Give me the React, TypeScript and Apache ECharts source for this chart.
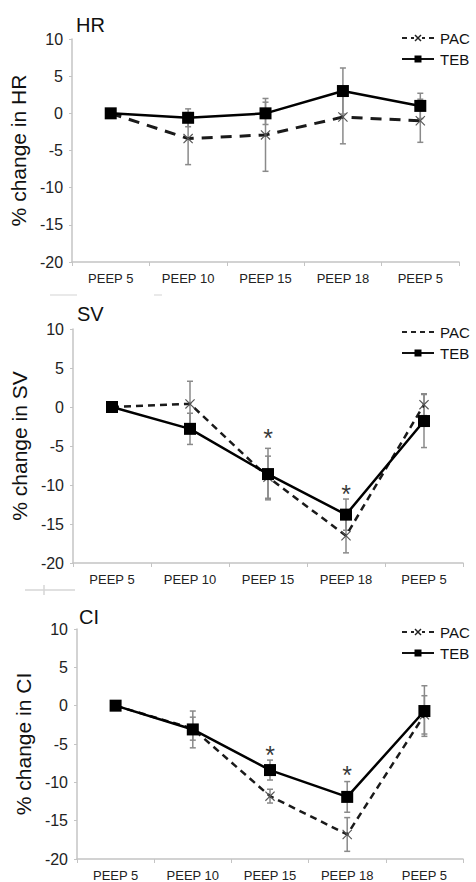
import React, { useEffect, useRef } from "react";
import * as echarts from "echarts";

const FONT = '"Liberation Sans", Arial, Helvetica, sans-serif';

const categories = ["PEEP 5", "PEEP 10", "PEEP 15", "PEEP 18", "PEEP 5"];
const yTicks = { min: -20, max: 10, interval: 5 };

// HR
const hrPAC = [0, -3.4, -2.9, -0.5, -1.0];
const hrPACerr = [0, 3.5, 4.9, 3.6, 2.9];
const hrTEB = [0, -0.6, 0, 3.0, 1.0];
const hrTEBerr = [0, 1.2, 1.5, 3.1, 1.7];

// SV
const svPAC = [0, 0.4, -9.0, -16.5, 0.3];
const svPACerr = [0, 2.9, 2.7, 2.2, 1.4];
const svTEB = [0, -2.8, -8.6, -13.8, -1.8];
const svTEBerr = [0, 2.0, 3.3, 2.0, 3.4];
const svStars = [
  [2, -3.6],
  [3, -10.8],
];

// CI
const ciPAC = [0, -3.0, -11.8, -16.8, -1.2];
const ciPACerr = [0, 1.5, 0.9, 2.2, 2.5];
const ciTEB = [0, -3.1, -8.4, -11.9, -0.7];
const ciTEBerr = [0, 2.4, 1.3, 2.0, 3.3];
const ciStars = [
  [2, -6.0],
  [3, -8.7],
];

const panels = [
  { title: "HR", yName: "% change in HR", pac: hrPAC, pacErr: hrPACerr, teb: hrTEB, tebErr: hrTEBerr, stars: [] as number[][] },
  { title: "SV", yName: "% change in SV", pac: svPAC, pacErr: svPACerr, teb: svTEB, tebErr: svTEBerr, stars: svStars },
  { title: "CI", yName: "% change in CI", pac: ciPAC, pacErr: ciPACerr, teb: ciTEB, tebErr: ciTEBerr, stars: ciStars },
];

const layout = [
  { left: 72, top: 39, width: 387, height: 223, titleX: 76, titleY: 15, legY: 38, dash: [11, 8], legMarker: true },
  { left: 73, top: 329, width: 390, height: 234, titleX: 77, titleY: 304, legY: 332, dash: [7, 5], legMarker: false },
  { left: 77, top: 629, width: 386, height: 230, titleX: 79, titleY: 607, legY: 632, dash: [7, 5], legMarker: true },
];

const X_SYMBOL =
  "path://M0,0.8 L0.8,0 L5,4.2 L9.2,0 L10,0.8 L5.8,5 L10,9.2 L9.2,10 L5,5.8 L0.8,10 L0,9.2 L4.2,5 Z";

const errRender = (params: any, api: any) => {
  const x = api.value(0);
  const lo = api.value(1);
  const hi = api.value(2);
  const top = api.coord([x, hi]);
  const bot = api.coord([x, lo]);
  const w = 3;
  const style = { stroke: "#8a8a8a", lineWidth: 1.5 };
  return {
    type: "group",
    children: [
      { type: "line", shape: { x1: top[0], y1: top[1], x2: bot[0], y2: bot[1] }, style },
      { type: "line", shape: { x1: top[0] - w, y1: top[1], x2: top[0] + w, y2: top[1] }, style },
      { type: "line", shape: { x1: bot[0] - w, y1: bot[1], x2: bot[0] + w, y2: bot[1] }, style },
    ],
  };
};

const errData = (vals: number[], errs: number[]) =>
  vals
    .map((v, i) => [i, v - errs[i], v + errs[i], errs[i]])
    .filter((d) => d[3] > 0)
    .map((d) => [d[0], d[1], d[2]]);

function legendGraphic(y: number, marker: boolean) {
  const x1 = 402;
  const x2 = 434;
  const cx = 418;
  const els: any[] = [
    { type: "line", shape: { x1, y1: y, x2, y2: y }, style: { stroke: "#222", lineWidth: 2, lineDash: [5, 4] } },
    { type: "line", shape: { x1, y1: y + 21, x2, y2: y + 21 }, style: { stroke: "#111", lineWidth: 2 } },
    { type: "rect", shape: { x: cx - 3.5, y: y + 21 - 3.5, width: 7, height: 7 }, style: { fill: "#000" } },
    { type: "text", x: 440, y, style: { text: "PAC", font: `15px ${FONT}`, fill: "#111", verticalAlign: "middle" } },
    { type: "text", x: 440, y: y + 21, style: { text: "TEB", font: `15px ${FONT}`, fill: "#111", verticalAlign: "middle" } },
  ];
  if (marker) {
    els.push(
      { type: "rect", shape: { x: cx - 4, y: y - 2, width: 8, height: 4 }, style: { fill: "#fff" } },
      { type: "line", shape: { x1: cx - 3, y1: y - 3, x2: cx + 3, y2: y + 3 }, style: { stroke: "#222", lineWidth: 1.5 } },
      { type: "line", shape: { x1: cx - 3, y1: y + 3, x2: cx + 3, y2: y - 3 }, style: { stroke: "#222", lineWidth: 1.5 } }
    );
  }
  return els;
}

export default function App() {
  const ref = useRef<HTMLDivElement>(null);
  useEffect(() => {
    if (!ref.current) return;
    const chart = echarts.init(ref.current, undefined, { renderer: "svg" });

    const grid = layout.map((l) => ({ left: l.left, top: l.top, width: l.width, height: l.height, containLabel: false }));
    const xAxis = layout.map((_, i) => ({
      type: "category",
      gridIndex: i,
      data: categories,
      boundaryGap: true,
      axisLine: { show: true, onZero: false, lineStyle: { color: "#c4c4c4", width: 1.5 } },
      axisTick: { show: true, length: 4, lineStyle: { color: "#c4c4c4" } },
      axisLabel: { fontSize: 13, color: "#222", fontFamily: FONT, margin: 10, interval: 0 },
      splitLine: { show: false },
    }));
    const yAxis = panels.map((p, i) => ({
      type: "value",
      gridIndex: i,
      min: yTicks.min,
      max: yTicks.max,
      interval: yTicks.interval,
      name: p.yName,
      nameLocation: "middle",
      nameGap: 37,
      nameTextStyle: { fontSize: 21, color: "#111", fontFamily: FONT },
      axisLine: { show: true, onZero: false, lineStyle: { color: "#c4c4c4", width: 1.5 } },
      axisTick: { show: true, length: 3, lineStyle: { color: "#c4c4c4" } },
      axisLabel: { fontSize: 16, color: "#222", fontFamily: FONT, margin: 9 },
      splitLine: { show: false },
    }));

    const series: any[] = [];
    panels.forEach((p, i) => {
      series.push(
        {
          type: "custom",
          name: "PAC err",
          xAxisIndex: i,
          yAxisIndex: i,
          renderItem: errRender,
          encode: { x: 0, y: [1, 2] },
          data: errData(p.pac, p.pacErr),
          z: 1,
        },
        {
          type: "custom",
          name: "TEB err",
          xAxisIndex: i,
          yAxisIndex: i,
          renderItem: errRender,
          encode: { x: 0, y: [1, 2] },
          data: errData(p.teb, p.tebErr),
          z: 1,
        },
        {
          type: "line",
          name: "PAC",
          xAxisIndex: i,
          yAxisIndex: i,
          data: p.pac,
          symbol: X_SYMBOL,
          symbolSize: 10,
          showAllSymbol: true,
          lineStyle: { color: "#1a1a1a", width: i === 0 ? 3 : 2.5, type: layout[i].dash },
          itemStyle: { color: "#555" },
          z: 2,
        },
        {
          type: "line",
          name: "TEB",
          xAxisIndex: i,
          yAxisIndex: i,
          data: p.teb,
          symbol: "rect",
          symbolSize: 12,
          showAllSymbol: true,
          lineStyle: { color: "#000", width: 2.5 },
          itemStyle: { color: "#000" },
          z: 3,
        }
      );
      if (p.stars.length) {
        series.push({
          type: "scatter",
          name: "sig",
          xAxisIndex: i,
          yAxisIndex: i,
          data: p.stars,
          symbolSize: 1,
          itemStyle: { color: "rgba(0,0,0,0)" },
          label: {
            show: true,
            position: "inside",
            formatter: "*",
            fontSize: 25,
            color: "#000",
            fontFamily: FONT,
            offset: [0, 3],
          },
          z: 4,
        });
      }
    });

    const graphic: any[] = [];
    layout.forEach((l) => graphic.push(...legendGraphic(l.legY, l.legMarker)));
    // faint scan marks
    graphic.push(
      { type: "line", shape: { x1: 50, y1: 295, x2: 77, y2: 295 }, style: { stroke: "#e2e2e2", lineWidth: 1.5 } },
      { type: "line", shape: { x1: 154, y1: 295, x2: 162, y2: 295 }, style: { stroke: "#e2e2e2", lineWidth: 1.5 } },
      { type: "line", shape: { x1: 25, y1: 590, x2: 75, y2: 590 }, style: { stroke: "#d6d6d6", lineWidth: 1.5 } },
      { type: "line", shape: { x1: 44, y1: 585, x2: 44, y2: 595 }, style: { stroke: "#d6d6d6", lineWidth: 1.5 } }
    );

    chart.setOption({
      animation: false,
      backgroundColor: "#ffffff",
      title: panels.map((p, i) => ({
        text: p.title,
        left: layout[i].titleX,
        top: layout[i].titleY,
        padding: 0,
        textStyle: { fontSize: 20, fontWeight: "normal", color: "#111", fontFamily: FONT },
      })),
      grid,
      xAxis,
      yAxis,
      series,
      graphic,
    });
    return () => chart.dispose();
  }, []);

  return (
    <div
      ref={ref}
      style={{ position: "fixed", left: 0, top: 0, width: 476, height: 882, background: "#fff" }}
    />
  );
}
